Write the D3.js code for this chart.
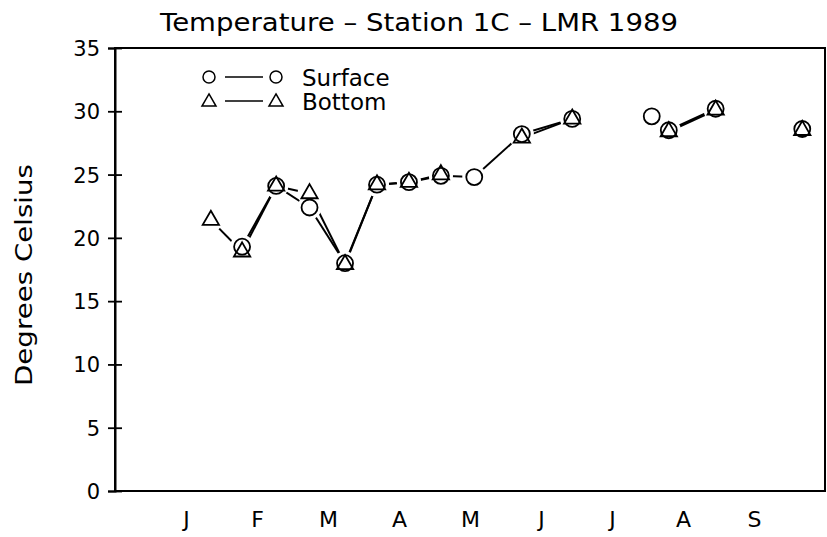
<!DOCTYPE html>
<html><head><meta charset="utf-8">
<script src="https://cdn.jsdelivr.net/npm/d3@7"></script>
<style>
html,body{margin:0;padding:0;background:#fff;}
text{font-family:"DejaVu Sans",sans-serif;fill:#000;}
</style></head>
<body><svg id="c" width="827" height="537"></svg>
<script>
// ---- data ----
const title = "Temperature \u2013 Station 1C \u2013 LMR 1989";
const yLabel = "Degrees Celsius";
const monthLabels = ["J","F","M","A","M","J","J","A","S"];
const monthPos = [1,2,3,4,5,6,7,8,9];
const yTicks = [0,5,10,15,20,25,30,35];
// sample times in month units (label J = 1)
const sampleMonth = [1.35,1.79,2.27,2.74,3.24,3.69,4.14,4.59,5.06,5.73,6.44,7.56,7.80,8.46,9.68];
// sampling run each sample belongs to (lines connect samples of the same run)
const sampleRun   = [1,1,1,1,1,1,1,1,1,1,1,2,3,3,4];
const surface = [null,19.3,24.1,22.4,18.0,24.2,24.4,24.9,24.8,28.2,29.4,29.6,28.5,30.2,28.6];
const bottom  = [21.4,18.9,24.1,23.5,17.9,24.2,24.4,25.0,null,27.9,29.4,null,28.4,30.1,28.5];
const legendItems = ["Surface","Bottom"];

// ---- chart ----
const svg = d3.select("#c");
const L=115, R=825, T=48, B=491;
const x = d3.scaleLinear().domain([0,10]).range([L,R]);
const y = d3.scaleLinear().domain([0,35]).range([B,T]);

// frame
svg.append("rect").attr("x",L).attr("y",T).attr("width",R-L).attr("height",B-T)
  .attr("fill","none").attr("stroke","#000").attr("stroke-width",2);

// y axis
const yAxis = d3.axisLeft(y).tickValues(yTicks).tickSize(7).tickPadding(10).tickFormat(d3.format("d"));
const gy = svg.append("g").attr("transform",`translate(${L},0)`).call(yAxis);
gy.select(".domain").attr("stroke","#000").attr("stroke-width",2);
gy.selectAll(".tick line").attr("x1",7).attr("x2",-7).attr("stroke-width",1.8);
gy.selectAll(".tick text").attr("font-size",21).attr("font-family","DejaVu Sans").attr("x",-15).attr("dy","0.36em");

// x axis (labels only)
const xAxis = d3.axisBottom(x).tickValues(monthPos).tickSize(0).tickPadding(20)
  .tickFormat((d,i)=>monthLabels[i]);
const gx = svg.append("g").attr("transform",`translate(0,${B})`).call(xAxis);
gx.select(".domain").remove();
gx.selectAll(".tick text").attr("font-size",22).attr("font-family","DejaVu Sans");

// title
svg.append("text").attr("x",419).attr("y",31).attr("text-anchor","middle")
  .attr("font-size",25).attr("textLength",518).attr("lengthAdjust","spacingAndGlyphs").text(title);
// y label
svg.append("text").attr("transform","translate(32,275) rotate(-90)").attr("text-anchor","middle")
  .attr("font-size",23).attr("textLength",222).attr("lengthAdjust","spacingAndGlyphs").text(yLabel);

// data points
const pts = sampleMonth.map((m,i)=>({m, run:sampleRun[i], s:surface[i], b:bottom[i]}));

function segs(key){
  const out=[];
  for(let i=1;i<pts.length;i++){
    const a=pts[i-1], c=pts[i];
    if(a.run===c.run && a[key]!=null && c[key]!=null) out.push([a,c]);
  }
  return out;
}
const line = (key)=>d3.line().x(d=>x(d.m)).y(d=>y(d[key]));
const gl = svg.append("g");
["s","b"].forEach(k=>{
  gl.selectAll(null).data(segs(k)).join("path")
    .attr("d",line(k)).attr("fill","none").attr("stroke","#000").attr("stroke-width",2);
});

// white halos behind markers
const gh = svg.append("g");
["s","b"].forEach(k=>{
  gh.selectAll(null).data(pts.filter(p=>p[k]!=null)).join("circle")
    .attr("cx",d=>x(d.m)).attr("cy",d=>y(d[k])).attr("r",12).attr("fill","#fff");
});

const tri = d3.symbol().type(d3.symbolTriangle).size(115);
const gm = svg.append("g");
gm.selectAll(null).data(pts.filter(p=>p.s!=null)).join("circle")
  .attr("cx",d=>x(d.m)).attr("cy",d=>y(d.s)).attr("r",8)
  .attr("fill","none").attr("stroke","#000").attr("stroke-width",1.8);
gm.selectAll(null).data(pts.filter(p=>p.b!=null)).join("path")
  .attr("transform",d=>`translate(${x(d.m)},${y(d.b)})`).attr("d",tri)
  .attr("fill","none").attr("stroke","#000").attr("stroke-width",1.8);

// legend
const lg = svg.append("g");
legendItems.forEach((name,i)=>{
  const yy = 77 + i*24;
  lg.append("line").attr("x1",225).attr("x2",263).attr("y1",yy).attr("y2",yy)
    .attr("stroke","#000").attr("stroke-width",1.5);
  [209,276].forEach(cx=>{
    if(i===0) lg.append("circle").attr("cx",cx).attr("cy",yy).attr("r",6)
      .attr("fill","none").attr("stroke","#000").attr("stroke-width",1.5);
    else lg.append("path").attr("transform",`translate(${cx},${yy+1})`)
      .attr("d",d3.symbol().type(d3.symbolTriangle).size(85))
      .attr("fill","none").attr("stroke","#000").attr("stroke-width",1.5);
  });
  lg.append("text").attr("x",302).attr("y",yy+9).attr("font-size",23).text(name);
});
</script></body></html>
